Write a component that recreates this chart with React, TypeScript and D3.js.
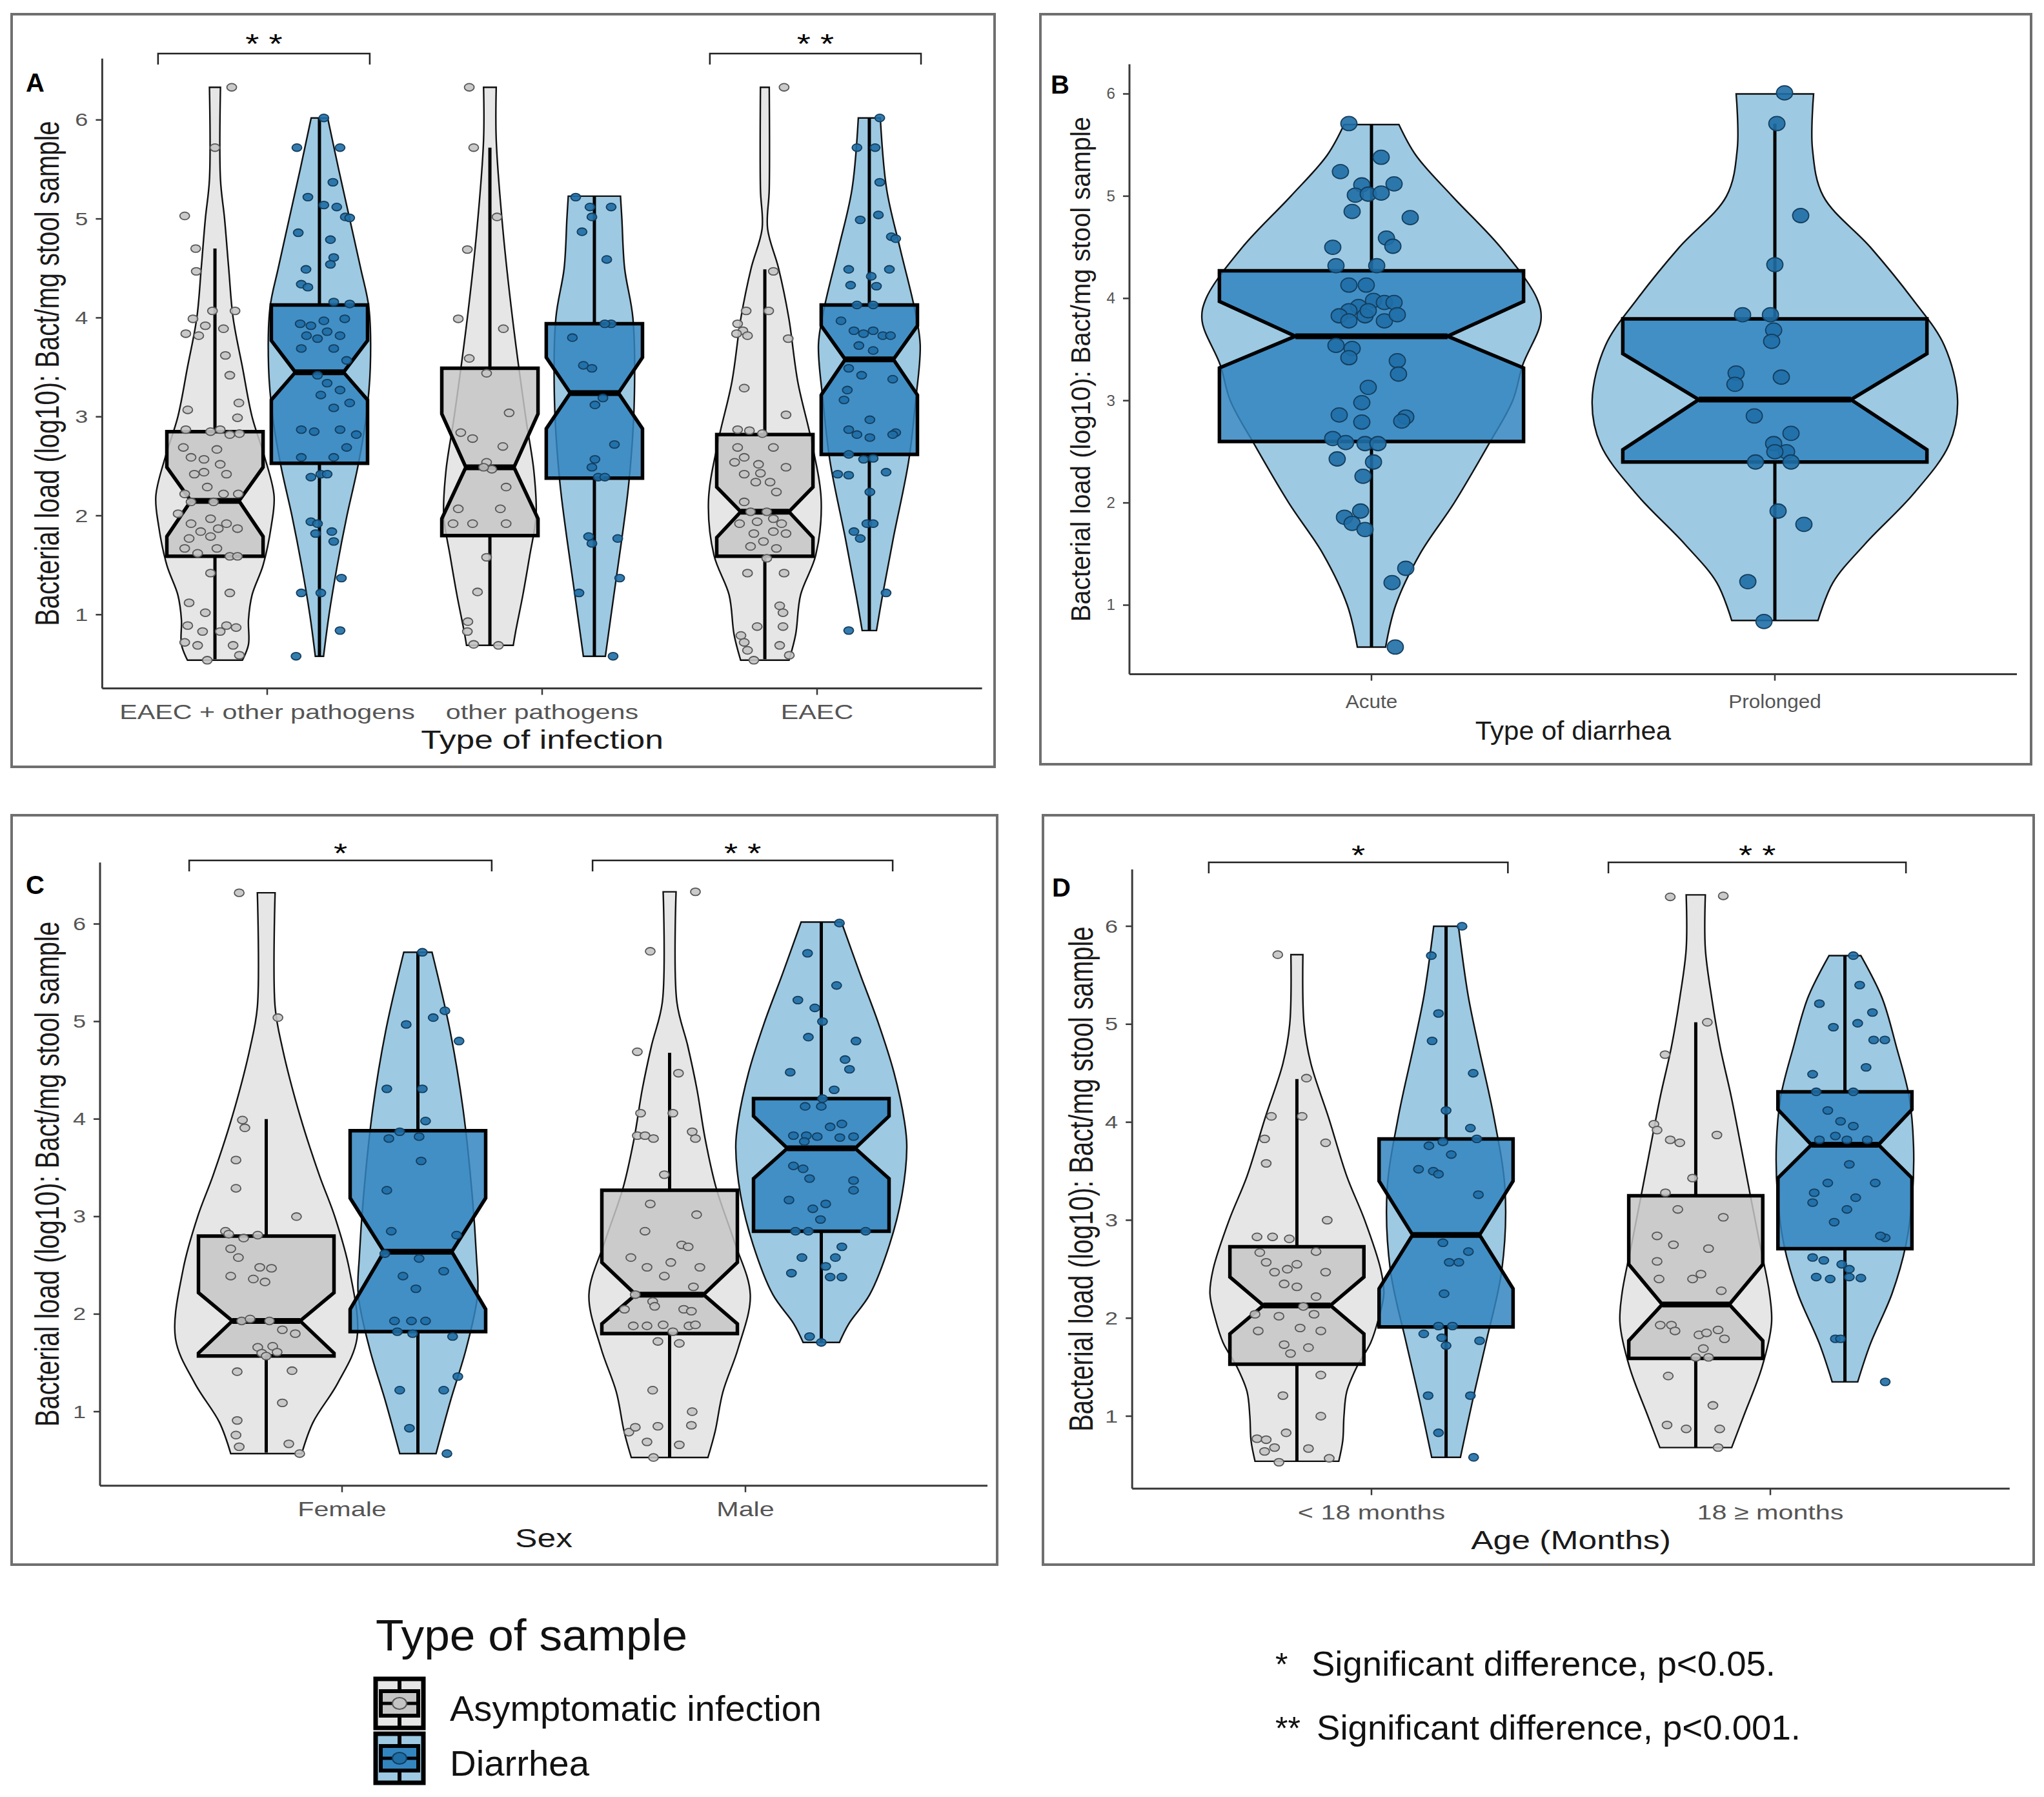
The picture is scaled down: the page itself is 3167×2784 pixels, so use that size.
import React from "react";
import * as d3 from "d3";

// ---------------- data ----------------
const yTicks = [1, 2, 3, 4, 5, 6];
const sampleTypes = ["Asymptomatic infection", "Diarrhea"];

// box rows: [whiskerLow, q1, notchLow, median, notchHigh, q3, whiskerHigh]
// violin rows: [value, half width in category units]
// point rows: [jitter in category units, value]

// Panel A
const aCategories = ["EAEC + other pathogens", "other pathogens", "EAEC"];
const aGroups = [[0, 0], [0, 1], [1, 0], [1, 1], [2, 0], [2, 1]];
const aBoxes = [
  [0.55, 1.59, 1.79, 2.15, 2.49, 2.85, 4.7],
  [0.58, 2.53, 3.17, 3.45, 3.77, 4.13, 6.02],
  [0.69, 1.8, 1.97, 2.49, 3.03, 3.49, 5.72],
  [0.58, 2.38, 2.88, 3.24, 3.6, 3.94, 5.23],
  [0.55, 1.59, 1.78, 2.04, 2.29, 2.82, 4.49],
  [0.84, 2.62, 3.22, 3.58, 3.92, 4.13, 6.02],
];
const aViolins = [
  [[0.54, 0.1], [0.7, 0.122], [0.95, 0.122], [1.2, 0.135], [1.5, 0.175], [1.9, 0.205], [2.2, 0.215], [2.6, 0.18], [3.0, 0.135], [3.5, 0.1], [4.0, 0.066], [4.5, 0.05], [5.0, 0.035], [5.4, 0.02], [6.33, 0.02]],
  [[0.58, 0.015], [1.0, 0.035], [1.5, 0.065], [2.0, 0.1], [2.5, 0.14], [3.0, 0.17], [3.5, 0.185], [4.1, 0.18], [4.5, 0.15], [5.0, 0.11], [5.5, 0.07], [6.02, 0.03]],
  [[0.69, 0.085], [0.85, 0.095], [1.2, 0.12], [1.6, 0.145], [2.0, 0.168], [2.45, 0.16], [3.0, 0.13], [4.0, 0.082], [4.9, 0.047], [5.8, 0.023], [6.33, 0.023]],
  [[0.58, 0.04], [1.18, 0.07], [1.77, 0.1], [2.35, 0.126], [3.15, 0.145], [4.0, 0.14], [4.5, 0.11], [5.0, 0.1], [5.23, 0.095]],
  [[0.54, 0.088], [0.8, 0.112], [1.2, 0.13], [1.6, 0.185], [2.15, 0.205], [2.75, 0.17], [3.35, 0.12], [4.0, 0.087], [4.5, 0.05], [4.9, 0.01], [5.3, 0.016], [6.33, 0.016]],
  [[0.84, 0.026], [1.18, 0.047], [1.77, 0.087], [2.55, 0.143], [3.15, 0.168], [3.73, 0.185], [4.1, 0.164], [4.7, 0.112], [5.3, 0.063], [6.02, 0.04]],
];
const aPoints = [
  [[0.061, 6.33], [0, 5.72], [-0.11, 5.03], [-0.07, 4.7], [-0.068, 4.47], [-0.009, 4.07], [0.073, 4.07], [-0.08, 3.99], [-0.106, 3.84], [-0.059, 3.82], [-0.035, 3.92], [0.031, 3.89], [0.038, 3.62], [0.054, 3.42], [0.087, 3.14], [-0.099, 3.07], [0.082, 2.99], [-0.106, 2.87], [-0.016, 2.85], [0.019, 2.87], [0.054, 2.82], [0.089, 2.83], [-0.115, 2.69], [-0.087, 2.59], [-0.04, 2.57], [0.007, 2.67], [-0.075, 2.42], [-0.04, 2.44], [0.019, 2.52], [0.042, 2.42], [-0.028, 2.29], [-0.11, 2.22], [0.031, 2.22], [0.085, 2.22], [-0.087, 2.14], [-0.005, 2.14], [-0.134, 2.02], [-0.016, 1.97], [-0.087, 1.92], [0.042, 1.92], [-0.052, 1.84], [0.012, 1.87], [0.082, 1.87], [-0.094, 1.77], [-0.016, 1.79], [-0.11, 1.67], [0.007, 1.67], [-0.063, 1.62], [0.054, 1.59], [0.082, 1.59], [-0.016, 1.42], [0.054, 1.22], [-0.094, 1.12], [-0.035, 1.02], [-0.099, 0.89], [0.042, 0.89], [0.077, 0.87], [-0.045, 0.83], [0.019, 0.83], [-0.11, 0.72], [-0.063, 0.69], [0.066, 0.69], [-0.028, 0.54], [0.089, 0.59]],
  [[0.016, 6.02], [-0.082, 5.72], [0.075, 5.72], [0.049, 5.37], [-0.042, 5.22], [0.016, 5.14], [0.063, 5.12], [0.094, 5.02], [0.11, 5.01], [-0.077, 4.86], [0.04, 4.79], [0.052, 4.61], [0.04, 4.54], [-0.049, 4.49], [-0.066, 4.34], [-0.042, 4.31], [0.052, 4.16], [0.11, 4.14], [-0.07, 3.94], [-0.031, 3.92], [0.016, 3.97], [0.092, 3.99], [-0.047, 3.82], [-0.007, 3.79], [0.028, 3.86], [0.075, 3.82], [-0.066, 3.69], [0.052, 3.69], [0.099, 3.57], [-0.007, 3.42], [0.028, 3.34], [0.075, 3.27], [0.005, 3.22], [0.052, 3.09], [0.11, 3.14], [-0.066, 2.87], [-0.019, 2.85], [0.075, 2.87], [0.134, 2.82], [0.099, 2.69], [-0.066, 2.59], [0.052, 2.59], [0.005, 2.42], [-0.031, 2.39], [0.028, 2.42], [-0.031, 1.94], [-0.007, 1.92], [-0.014, 1.82], [0.045, 1.84], [0.052, 1.74], [-0.066, 1.22], [0.005, 1.22], [0.08, 1.37], [0.075, 0.84], [-0.085, 0.58]],
  [[-0.075, 6.33], [-0.059, 5.72], [0.026, 5.02], [-0.082, 4.69], [-0.115, 3.99], [0.049, 3.89], [-0.075, 3.59], [-0.012, 3.44], [0.07, 3.04], [-0.106, 2.84], [-0.063, 2.78], [0.047, 2.7], [-0.012, 2.54], [0.007, 2.47], [-0.023, 2.49], [0.059, 2.29], [-0.115, 2.07], [0.038, 2.07], [-0.134, 1.92], [-0.063, 1.92], [0.059, 1.92], [-0.012, 1.58], [-0.045, 1.23], [-0.08, 0.93], [-0.082, 0.83], [-0.059, 0.7], [0.031, 0.69]],
  [[-0.068, 5.22], [-0.016, 5.12], [0.061, 5.12], [-0.045, 4.87], [-0.009, 5.02], [0.045, 4.59], [-0.08, 3.8], [-0.04, 3.52], [-0.009, 3.49], [0.061, 3.94], [0.038, 3.94], [0.002, 3.12], [0.031, 3.19], [0.073, 2.72], [0.002, 2.57], [-0.009, 2.49], [0.014, 2.39], [0.038, 2.39], [-0.021, 1.79], [-0.009, 1.72], [0.085, 1.77], [-0.056, 1.22], [0.092, 1.37], [0.068, 0.58]],
  [[0.07, 6.33], [0.031, 4.47], [-0.068, 4.07], [0.014, 4.07], [-0.099, 3.94], [-0.08, 3.87], [-0.103, 3.84], [-0.063, 3.82], [0.085, 3.79], [-0.075, 3.29], [0.077, 3.02], [-0.099, 2.87], [-0.056, 2.86], [-0.009, 2.83], [0.031, 2.69], [-0.099, 2.69], [-0.075, 2.59], [-0.11, 2.54], [-0.023, 2.52], [-0.075, 2.42], [-0.016, 2.43], [0.077, 2.49], [0.019, 2.34], [-0.033, 2.34], [0.042, 2.24], [-0.075, 2.14], [-0.052, 2.04], [0.007, 2.04], [-0.028, 1.94], [0.031, 1.97], [-0.092, 1.92], [0.061, 1.92], [-0.04, 1.82], [0.031, 1.84], [0.077, 1.82], [-0.005, 1.74], [-0.052, 1.69], [0.042, 1.67], [0.007, 1.57], [-0.063, 1.42], [0.07, 1.42], [0.054, 1.09], [0.066, 1.02], [0.066, 0.88], [-0.028, 0.88], [-0.087, 0.79], [-0.075, 0.72], [0.054, 0.69], [-0.063, 0.64], [0.089, 0.59], [-0.04, 0.54]],
  [[0.038, 6.02], [-0.045, 5.72], [0.021, 5.72], [0.038, 5.37], [0.033, 5.04], [-0.033, 4.99], [0.08, 4.82], [0.096, 4.8], [0.073, 4.49], [-0.075, 4.49], [0.007, 4.42], [-0.068, 4.33], [0.026, 4.32], [-0.045, 4.13], [0.014, 4.13], [-0.103, 3.97], [-0.056, 3.87], [-0.021, 3.84], [0.014, 3.87], [0.049, 3.82], [0.077, 3.82], [-0.038, 3.72], [0.014, 3.67], [-0.075, 3.49], [-0.028, 3.42], [0.085, 3.38], [-0.08, 3.27], [-0.092, 3.17], [0.002, 2.97], [-0.075, 2.87], [-0.045, 2.82], [0.002, 2.79], [0.096, 2.84], [0.085, 2.82], [-0.075, 2.62], [-0.021, 2.57], [0.014, 2.58], [-0.115, 2.42], [-0.075, 2.41], [0.061, 2.44], [0.002, 2.24], [-0.056, 1.84], [-0.033, 1.77], [-0.009, 1.92], [0.014, 1.92], [0.061, 1.22], [-0.075, 0.84]],
];
const aBrackets = [[0, -0.397, 0.373, "* *"], [2, -0.39, 0.378, "* *"]];

// Panel B
const bCategories = ["Acute", "Prolonged"];
const bGroups = [[0, 1], [1, 1]];
const bBoxes = [
  [0.59, 2.6, 3.32, 3.63, 3.97, 4.27, 5.7],
  [0.85, 2.4, 2.52, 3.01, 3.46, 3.8, 5.71],
];
const bViolins = [
  [[0.59, 0.035], [1.0, 0.06], [1.5, 0.12], [2.0, 0.205], [2.57, 0.29], [3.0, 0.35], [3.35, 0.375], [3.78, 0.42], [4.0, 0.41], [4.5, 0.32], [5.0, 0.2], [5.4, 0.11], [5.7, 0.068]],
  [[0.85, 0.107], [1.22, 0.144], [1.6, 0.224], [2.09, 0.344], [2.57, 0.432], [3.0, 0.453], [3.54, 0.42], [4.0, 0.34], [4.5, 0.237], [5.0, 0.12], [5.47, 0.093], [6.0, 0.096]],
];
const bPoints = [
  [[-0.056, 5.71], [0.024, 5.38], [-0.077, 5.24], [-0.024, 5.11], [-0.04, 5.01], [-0.008, 5.02], [-0.048, 4.85], [0.024, 5.03], [0.056, 5.12], [0.096, 4.79], [-0.096, 4.5], [0.037, 4.59], [0.053, 4.51], [-0.088, 4.32], [0.013, 4.32], [-0.056, 4.13], [-0.013, 4.13], [0.005, 3.98], [0.032, 3.96], [0.056, 3.96], [-0.032, 3.92], [-0.056, 3.88], [-0.08, 3.83], [-0.016, 3.83], [-0.008, 3.88], [0.032, 3.78], [0.064, 3.84], [-0.056, 3.78], [-0.088, 3.54], [-0.048, 3.51], [-0.056, 3.42], [0.064, 3.39], [0.067, 3.26], [-0.008, 3.13], [-0.024, 2.98], [-0.024, 2.79], [-0.08, 2.86], [0.085, 2.84], [0.075, 2.8], [-0.096, 2.63], [-0.064, 2.59], [-0.016, 2.58], [0.016, 2.58], [-0.085, 2.43], [0.005, 2.4], [-0.021, 2.26], [-0.067, 1.86], [-0.027, 1.92], [-0.048, 1.8], [-0.016, 1.74], [0.051, 1.22], [0.085, 1.36], [0.059, 0.59]],
  [[0.024, 6.01], [0.005, 5.71], [0.064, 4.81], [0, 4.33], [-0.08, 3.84], [-0.011, 3.84], [-0.003, 3.69], [-0.008, 3.58], [-0.096, 3.27], [-0.099, 3.16], [0.016, 3.23], [-0.051, 2.85], [0.04, 2.68], [-0.003, 2.58], [-0.048, 2.4], [0.029, 2.5], [0.04, 2.4], [0, 2.5], [0.008, 1.92], [0.072, 1.79], [-0.067, 1.23], [-0.027, 0.84]],
];
const bBrackets = [];

// Panel C
const cCategories = ["Female", "Male"];
const cGroups = [[0, 0], [0, 1], [1, 0], [1, 1]];
const cBoxes = [
  [0.58, 1.57, 1.6, 1.93, 2.22, 2.8, 4.0],
  [0.57, 1.82, 2.05, 2.64, 3.19, 3.88, 5.71],
  [0.53, 1.8, 1.9, 2.2, 2.53, 3.27, 4.68],
  [1.71, 2.85, 3.39, 3.7, 4.03, 4.21, 6.02],
];
const cViolins = [
  [[0.57, 0.088], [0.89, 0.116], [1.29, 0.177], [1.75, 0.225], [2.46, 0.206], [3.0, 0.17], [3.42, 0.132], [4.03, 0.084], [4.73, 0.04], [5.15, 0.022], [6.32, 0.022]],
  [[0.57, 0.045], [1.1, 0.08], [1.65, 0.12], [2.2, 0.148], [2.6, 0.145], [3.2, 0.135], [4.1, 0.112], [4.9, 0.08], [5.71, 0.035]],
  [[0.53, 0.095], [0.8, 0.113], [1.2, 0.132], [1.65, 0.17], [2.2, 0.2], [2.75, 0.16], [3.3, 0.115], [3.8, 0.088], [4.3, 0.068], [4.75, 0.045], [5.2, 0.018], [6.33, 0.016]],
  [[1.71, 0.045], [1.9, 0.068], [2.2, 0.12], [2.71, 0.169], [3.22, 0.2], [3.72, 0.212], [3.98, 0.206], [4.48, 0.18], [4.99, 0.141], [5.49, 0.096], [6.02, 0.05]],
];
const cPoints = [
  [[-0.067, 6.32], [0.029, 5.04], [-0.059, 3.99], [-0.053, 3.91], [-0.075, 3.58], [-0.075, 3.29], [0.075, 3.0], [-0.101, 2.85], [-0.093, 2.82], [-0.056, 2.78], [-0.021, 2.81], [-0.088, 2.67], [-0.069, 2.58], [-0.016, 2.48], [0.013, 2.47], [-0.088, 2.39], [-0.032, 2.36], [-0.003, 2.33], [-0.061, 1.93], [-0.04, 1.95], [0.008, 1.93], [0.04, 1.84], [0.072, 1.8], [-0.021, 1.66], [0.016, 1.67], [-0.011, 1.6], [0.027, 1.61], [0, 1.57], [-0.072, 1.41], [0.064, 1.42], [0.04, 1.09], [-0.072, 0.91], [-0.075, 0.76], [-0.067, 0.64], [0.056, 0.67], [0.083, 0.57]],
  [[0.011, 5.71], [-0.029, 4.97], [0.038, 5.04], [0.067, 5.11], [0.102, 4.8], [-0.077, 4.31], [0.011, 4.31], [0.019, 3.98], [-0.045, 3.87], [-0.072, 3.8], [0.003, 3.82], [0.008, 3.57], [-0.077, 3.27], [-0.066, 2.85], [0.096, 2.81], [-0.082, 2.62], [0.003, 2.57], [0.064, 2.44], [-0.037, 2.39], [-0.005, 2.26], [-0.058, 1.93], [-0.016, 1.93], [0.019, 1.93], [-0.051, 1.82], [-0.013, 1.8], [0.086, 1.77], [-0.045, 1.22], [0.064, 1.22], [0.099, 1.36], [-0.021, 0.83], [0.072, 0.57]],
  [[0.064, 6.33], [-0.048, 5.72], [-0.08, 4.69], [0.022, 4.47], [-0.072, 4.06], [0.008, 4.06], [-0.08, 3.83], [-0.061, 3.83], [-0.04, 3.8], [0.056, 3.87], [0.064, 3.8], [-0.013, 3.43], [-0.048, 3.13], [0.067, 3.02], [-0.061, 2.85], [0.03, 2.71], [0.046, 2.69], [-0.096, 2.58], [-0.056, 2.48], [0.003, 2.53], [0.075, 2.48], [-0.013, 2.39], [0.059, 2.28], [-0.085, 2.2], [-0.042, 2.13], [-0.112, 2.05], [-0.037, 2.08], [0.035, 2.05], [0.054, 2.03], [-0.09, 1.88], [-0.056, 1.88], [-0.016, 1.89], [0.048, 1.88], [0.064, 1.89], [0.008, 1.82], [-0.029, 1.72], [0.024, 1.7], [-0.042, 1.22], [0.056, 1.0], [-0.029, 0.85], [0.054, 0.86], [-0.101, 0.79], [-0.085, 0.84], [-0.056, 0.69], [0.024, 0.66], [-0.04, 0.53]],
  [[0.045, 6.01], [-0.034, 5.7], [0.038, 5.37], [-0.058, 5.22], [-0.016, 5.14], [0.003, 5.0], [-0.032, 4.84], [0.086, 4.8], [0.059, 4.61], [0.07, 4.51], [-0.077, 4.48], [0.032, 4.3], [0.003, 4.21], [-0.04, 4.13], [0, 4.13], [0.051, 3.95], [0.022, 3.92], [-0.069, 3.83], [-0.037, 3.83], [-0.01, 3.82], [0.046, 3.81], [0.08, 3.82], [-0.042, 3.77], [-0.069, 3.52], [-0.045, 3.49], [-0.029, 3.39], [0.08, 3.37], [0.08, 3.27], [-0.08, 3.17], [0.011, 3.13], [-0.021, 3.08], [-0.002, 2.97], [-0.064, 2.85], [-0.032, 2.85], [0.11, 2.85], [0.051, 2.69], [-0.048, 2.58], [0.035, 2.58], [0.011, 2.49], [-0.074, 2.42], [0.022, 2.38], [0.051, 2.38], [-0.029, 1.77], [0, 1.71]],
];
const cBrackets = [[0, -0.379, 0.371, "*"], [1, -0.379, 0.365, "* *"]];

// Panel D
const dCategories = ["< 18 months", "18 \u2265 months"];
const dGroups = [[0, 0], [0, 1], [1, 0], [1, 1]];
const dBoxes = [
  [0.54, 1.53, 1.84, 2.13, 2.42, 2.73, 4.44],
  [0.58, 1.91, 2.3, 2.85, 3.4, 3.83, 6.0],
  [0.68, 1.59, 1.77, 2.14, 2.55, 3.25, 5.02],
  [1.35, 2.71, 3.43, 3.77, 4.13, 4.31, 5.7],
];
const dViolins = [
  [[0.54, 0.105], [0.75, 0.115], [1.0, 0.118], [1.25, 0.125], [1.5, 0.15], [1.75, 0.185], [2.0, 0.205], [2.25, 0.218], [2.5, 0.21], [3.0, 0.17], [3.45, 0.125], [4.04, 0.08], [4.6, 0.035], [5.0, 0.018], [5.71, 0.015]],
  [[0.58, 0.036], [1.15, 0.066], [1.75, 0.1], [2.5, 0.14], [3.3, 0.148], [4.05, 0.12], [4.8, 0.08], [5.3, 0.055], [6.0, 0.031]],
  [[0.68, 0.09], [1.0, 0.12], [1.5, 0.166], [1.95, 0.19], [2.25, 0.185], [2.75, 0.161], [3.25, 0.137], [3.76, 0.113], [4.26, 0.089], [4.77, 0.061], [5.27, 0.04], [5.77, 0.024], [6.32, 0.024]],
  [[1.35, 0.032], [1.74, 0.064], [2.25, 0.118], [2.75, 0.153], [3.25, 0.169], [3.76, 0.172], [4.26, 0.161], [4.77, 0.129], [5.27, 0.093], [5.7, 0.04]],
];
const dPoints = [
  [[-0.048, 5.71], [0.024, 4.45], [-0.064, 4.06], [0.013, 4.06], [-0.081, 3.83], [0.072, 3.79], [-0.077, 3.58], [0.076, 3.0], [-0.1, 2.83], [-0.061, 2.83], [-0.019, 2.81], [-0.093, 2.67], [0.048, 2.68], [-0.077, 2.57], [0, 2.55], [-0.056, 2.47], [-0.024, 2.5], [0.072, 2.47], [-0.032, 2.35], [0, 2.32], [0.048, 2.22], [0.016, 2.12], [-0.105, 2.04], [-0.045, 2.02], [0.043, 2.04], [-0.097, 1.87], [0.008, 1.9], [0.06, 1.87], [-0.032, 1.73], [0.029, 1.7], [-0.016, 1.64], [0.06, 1.42], [-0.035, 1.21], [0.06, 1.0], [-0.027, 0.83], [-0.1, 0.77], [-0.077, 0.76], [-0.056, 0.68], [0.029, 0.67], [-0.081, 0.64], [-0.045, 0.53], [0.081, 0.57]],
  [[0.04, 6.0], [-0.037, 5.7], [-0.019, 5.11], [-0.035, 4.83], [0.068, 4.5], [0, 4.12], [0.061, 3.94], [0.077, 3.83], [-0.043, 3.76], [-0.008, 3.8], [0.013, 3.67], [-0.069, 3.52], [-0.032, 3.5], [-0.019, 3.47], [0.081, 3.26], [-0.008, 2.77], [0.056, 2.68], [0.032, 2.57], [0.008, 2.57], [-0.005, 2.25], [-0.056, 1.84], [-0.019, 1.92], [0.016, 1.92], [-0.011, 1.8], [0, 1.72], [0.084, 1.77], [-0.045, 1.21], [0.061, 1.21], [-0.019, 0.83], [0.069, 0.58]],
  [[-0.064, 6.3], [0.069, 6.31], [0.029, 5.02], [-0.077, 4.69], [-0.105, 3.98], [-0.097, 3.92], [-0.064, 3.82], [-0.04, 3.79], [0.053, 3.87], [-0.008, 3.43], [-0.076, 3.28], [-0.045, 3.11], [0.069, 3.03], [-0.097, 2.84], [-0.056, 2.75], [0.032, 2.71], [-0.097, 2.58], [-0.092, 2.4], [-0.008, 2.4], [0.013, 2.45], [0.064, 2.28], [-0.089, 1.93], [-0.061, 1.93], [-0.052, 1.87], [0.008, 1.83], [0.027, 1.85], [0.056, 1.88], [0.072, 1.79], [0.019, 1.69], [0, 1.6], [0.032, 1.6], [-0.069, 1.41], [0.043, 1.11], [-0.072, 0.91], [-0.024, 0.87], [0.06, 0.87], [0.056, 0.68]],
  [[0.021, 5.7], [-0.064, 5.21], [0.037, 5.4], [0.069, 5.12], [-0.029, 4.97], [0.032, 5.01], [0.072, 4.84], [0.1, 4.84], [0.053, 4.56], [-0.081, 4.49], [-0.072, 4.31], [0.021, 4.31], [-0.043, 4.12], [-0.011, 4.01], [0.021, 3.96], [-0.064, 3.82], [-0.024, 3.86], [0.005, 3.82], [0.056, 3.82], [0.011, 3.57], [-0.043, 3.38], [0.076, 3.38], [-0.077, 3.28], [-0.081, 3.18], [0.027, 3.23], [0.005, 3.11], [-0.027, 2.98], [0.101, 2.82], [0.089, 2.84], [-0.081, 2.62], [-0.053, 2.59], [-0.008, 2.55], [0.011, 2.5], [-0.072, 2.42], [-0.037, 2.4], [0.04, 2.41], [0.011, 2.42], [-0.024, 1.79], [-0.011, 1.79], [0.101, 1.35]],
];
const dBrackets = [[0, -0.408, 0.342, "*"], [1, -0.406, 0.34, "* *"]];

const footnotes = [
  ["*", "Significant difference, p<0.05."],
  ["**", "Significant difference, p<0.001."],
];

// ---------------- styles / layout ----------------
const FONT = "'Liberation Sans', Arial, sans-serif";
const violinFill = ["#e6e6e6", "#9dc9e2"];
const boxFill = ["#c6c6c6", "#3385c0"];
const pointFill = ["#c4c4c4", "#1f6ea6"];
const pointStroke = ["#575757", "#143e5e"];

const layoutA = {
  frame: [18, 22, 1523, 1166], cat0: 414, step: 426, yb: 1105.6, yk: 153.3, vMin: 0.255, vMax: 6.62,
  sx: 1.29, dodge: 0.19, boxW: 0.175, tickFont: 28, catFont: 32, titleFont: 40, catBase: 1114,
  titleBase: 1160, yTitleX: 73, letter: "A", letterX: 40, letterY: 142, bracketY: 83, starBase: 82,
  ptRx: 7.5, ptRy: 5.8, title: "Type of infection",
};
const layoutB = {
  frame: [1612, 22, 1535, 1162], cat0: 2125, step: 625, yb: 1095.9, yk: 158.4, vMin: 0.324, vMax: 6.29,
  sx: 1.05, dodge: 0, boxW: 0.377, tickFont: 23, catFont: 30, titleFont: 40, catBase: 1097,
  titleBase: 1146, yTitleX: 1675, letter: "B", letterX: 1628, letterY: 145, bracketY: 0, starBase: 0,
  ptRx: 12.5, ptRy: 11, title: "Type of diarrhea",
};
const layoutC = {
  frame: [18, 1263, 1527, 1161], cat0: 530, step: 625, yb: 2338.1, yk: 151.1, vMin: 0.24, vMax: 6.63,
  sx: 1.29, dodge: 0.188, boxW: 0.168, tickFont: 28, catFont: 32, titleFont: 40, catBase: 2349,
  titleBase: 2397, yTitleX: 73, letter: "C", letterX: 40, letterY: 1385, bracketY: 1333, starBase: 1336,
  ptRx: 7.5, ptRy: 5.8, title: "Sex",
};
const layoutD = {
  frame: [1616, 1263, 1535, 1161], cat0: 2125, step: 618, yb: 2345.8, yk: 151.8, vMin: 0.26, vMax: 6.58,
  sx: 1.29, dodge: 0.187, boxW: 0.168, tickFont: 28, catFont: 32, titleFont: 40, catBase: 2354,
  titleBase: 2400, yTitleX: 1675, letter: "D", letterX: 1630, letterY: 1389, bracketY: 1336, starBase: 1339,
  ptRx: 7.5, ptRy: 5.8, title: "Age (Months)",
};

function violinPath(profile, c, x, y) {
  const line = d3.line().x((d) => x(d[0])).y((d) => y(d[1])).curve(d3.curveCatmullRom.alpha(0.5));
  const right = profile.map(([v, w]) => [c + w, v]);
  const left = profile.slice().reverse().map(([v, w]) => [c - w, v]);
  return line(right) + "L" + line(left).slice(1) + "Z";
}

function boxPath(b, c, w, x, y) {
  const [, q1, nLo, med, nHi, q3] = b;
  const xl = x(c - w), xr = x(c + w), xlm = x(c - w / 2), xrm = x(c + w / 2);
  const pts = [
    [xl, y(q3)], [xl, y(nHi)], [xlm, y(med)], [xl, y(nLo)], [xl, y(q1)],
    [xr, y(q1)], [xr, y(nLo)], [xrm, y(med)], [xr, y(nHi)], [xr, y(q3)],
  ];
  return "M" + pts.map((p) => p.join(",")).join("L") + "Z";
}

function Panel({ L, categories, groups, boxes, violins, points, brackets }) {
  const n = categories.length;
  const x = d3.scaleLinear().domain([0.4, n + 0.6]).range([L.cat0 - 0.6 * L.step, L.cat0 + (n - 0.4) * L.step]);
  const y = d3.scaleLinear().domain([0, 1]).range([L.yb, L.yb - L.yk]);
  const [fx, fy, fw, fh] = L.frame;
  const axisX = x(0.4);
  const axisY = y(L.vMin);
  const center = (g) => g[0] + 1 + (L.dodge ? (g[1] === 0 ? -L.dodge : L.dodge) : 0);
  const sx = L.sx;

  return (
    <g fontFamily={FONT}>
      <rect x={fx} y={fy} width={fw} height={fh} fill="#fff" stroke="#6f6f6f" strokeWidth={4} />
      {/* violins */}
      {groups.map((g, i) => (
        <path key={"v" + i} d={violinPath(violins[i], center(g), x, y)} fill={violinFill[g[1]]} stroke="#111" strokeWidth={2.4} />
      ))}
      {/* boxes */}
      {groups.map((g, i) => {
        const c = center(g);
        const b = boxes[i];
        return (
          <g key={"b" + i}>
            <line x1={x(c)} x2={x(c)} y1={y(b[5])} y2={y(b[6])} stroke="#000" strokeWidth={5} />
            <line x1={x(c)} x2={x(c)} y1={y(b[1])} y2={y(b[0])} stroke="#000" strokeWidth={5} />
            <path d={boxPath(b, c, L.boxW, x, y)} fill={boxFill[g[1]]} fillOpacity={0.85} stroke="#000" strokeWidth={5.5} strokeLinejoin="miter" />
            <line x1={x(c - L.boxW / 2)} x2={x(c + L.boxW / 2)} y1={y(b[3])} y2={y(b[3])} stroke="#000" strokeWidth={9} />
          </g>
        );
      })}
      {/* jittered points */}
      {groups.map((g, i) =>
        points[i].map((p, j) => (
          <ellipse key={"p" + i + "-" + j} cx={x(center(g) + p[0])} cy={y(p[1])} rx={L.ptRx} ry={L.ptRy}
            fill={pointFill[g[1]]} fillOpacity={0.9} stroke={pointStroke[g[1]]} strokeWidth={1.8} />
        ))
      )}
      {/* axes */}
      <line x1={axisX} x2={axisX} y1={y(L.vMax)} y2={axisY} stroke="#3a3a3a" strokeWidth={3} />
      <line x1={axisX} x2={x(n + 0.6)} y1={axisY} y2={axisY} stroke="#3a3a3a" strokeWidth={3} />
      {yTicks.map((t) => (
        <g key={"yt" + t}>
          <line x1={axisX - 10} x2={axisX} y1={y(t)} y2={y(t)} stroke="#3a3a3a" strokeWidth={2.5} />
          <text transform={`translate(${axisX - 22},${y(t)}) scale(${sx},1)`} textAnchor="end" dominantBaseline="central"
            fontSize={L.tickFont} fill="#555">{t}</text>
        </g>
      ))}
      {categories.map((c, i) => (
        <g key={"xt" + i}>
          <line x1={x(i + 1)} x2={x(i + 1)} y1={axisY} y2={axisY + 10} stroke="#3a3a3a" strokeWidth={2.5} />
          <text transform={`translate(${x(i + 1)},${L.catBase}) scale(${sx},1)`} textAnchor="middle"
            fontSize={L.catFont} fill="#555">{c}</text>
        </g>
      ))}
      <text transform={`translate(${(axisX + x(n + 0.6)) / 2},${L.titleBase}) scale(${sx},1)`} textAnchor="middle"
        fontSize={L.titleFont} fill="#1a1a1a">{L.title}</text>
      <text transform={`translate(${L.yTitleX},${(y(L.vMax) + axisY) / 2}) scale(${sx},1) rotate(-90)`} textAnchor="middle"
        dominantBaseline="central" fontSize={L.titleFont} fill="#1a1a1a">Bacterial load (log10): Bact/mg stool sample</text>
      <text x={L.letterX} y={L.letterY} fontSize={40} fontWeight="bold" fill="#000">{L.letter}</text>
      {/* significance brackets */}
      {brackets.map((br, i) => {
        const x1 = x(br[0] + 1 + br[1]);
        const x2 = x(br[0] + 1 + br[2]);
        return (
          <g key={"br" + i}>
            <path d={`M${x1},${L.bracketY + 17}V${L.bracketY}H${x2}V${L.bracketY + 17}`} fill="none" stroke="#222" strokeWidth={2.5} />
            <text transform={`translate(${(x1 + x2) / 2},${L.starBase}) scale(${sx},1)`} textAnchor="middle"
              fontSize={42} fill="#000">{br[3]}</text>
          </g>
        );
      })}
    </g>
  );
}

function LegendKey({ x, y, type }) {
  const w = 74, h = 76;
  const cx = x + w / 2;
  return (
    <g>
      <rect x={x} y={y} width={w} height={h} fill={violinFill[type]} stroke="#000" strokeWidth={7} />
      <line x1={cx} x2={cx} y1={y} y2={y + h * 0.25} stroke="#000" strokeWidth={6} />
      <line x1={cx} x2={cx} y1={y + h * 0.75} y2={y + h} stroke="#000" strokeWidth={6} />
      <rect x={x + 8} y={y + h * 0.25} width={w - 16} height={h * 0.5} fill={boxFill[type]} stroke="#000" strokeWidth={6} />
      <line x1={x + 8} x2={x + w - 8} y1={y + h / 2} y2={y + h / 2} stroke="#000" strokeWidth={5} />
      <ellipse cx={cx} cy={y + h / 2} rx={11} ry={9} fill={pointFill[type]} stroke={pointStroke[type]} strokeWidth={2} />
    </g>
  );
}

export default function App() {
  return (
    <svg width={3167} height={2784} style={{ position: "absolute", left: 0, top: 0, background: "#fff" }}>
      <rect x={0} y={0} width={3167} height={2784} fill="#fff" />
      <Panel L={layoutA} categories={aCategories} groups={aGroups} boxes={aBoxes} violins={aViolins} points={aPoints} brackets={aBrackets} />
      <Panel L={layoutB} categories={bCategories} groups={bGroups} boxes={bBoxes} violins={bViolins} points={bPoints} brackets={bBrackets} />
      <Panel L={layoutC} categories={cCategories} groups={cGroups} boxes={cBoxes} violins={cViolins} points={cPoints} brackets={cBrackets} />
      <Panel L={layoutD} categories={dCategories} groups={dGroups} boxes={dBoxes} violins={dViolins} points={dPoints} brackets={dBrackets} />

      {/* legend */}
      <g fontFamily={FONT} fill="#111">
        <text x={582} y={2557} fontSize={68} textLength={483} lengthAdjust="spacingAndGlyphs">Type of sample</text>
        {sampleTypes.map((s, i) => (
          <g key={s}>
            <LegendKey x={582} y={2601 + i * 85} type={i} />
            <text x={697} y={2666 + i * 85} fontSize={56} textLength={i === 0 ? 576 : 216} lengthAdjust="spacingAndGlyphs">{s}</text>
          </g>
        ))}
      </g>

      {/* footnotes */}
      <g fontFamily={FONT} fill="#111">
        {footnotes.map((f, i) => (
          <g key={i}>
            <text x={1976} y={2596 + i * 99} fontSize={50}>{f[0]}</text>
            <text x={i === 0 ? 2032 : 2040} y={2596 + i * 99} fontSize={54} textLength={i === 0 ? 719 : 750}
              lengthAdjust="spacingAndGlyphs">{f[1]}</text>
          </g>
        ))}
      </g>
    </svg>
  );
}
